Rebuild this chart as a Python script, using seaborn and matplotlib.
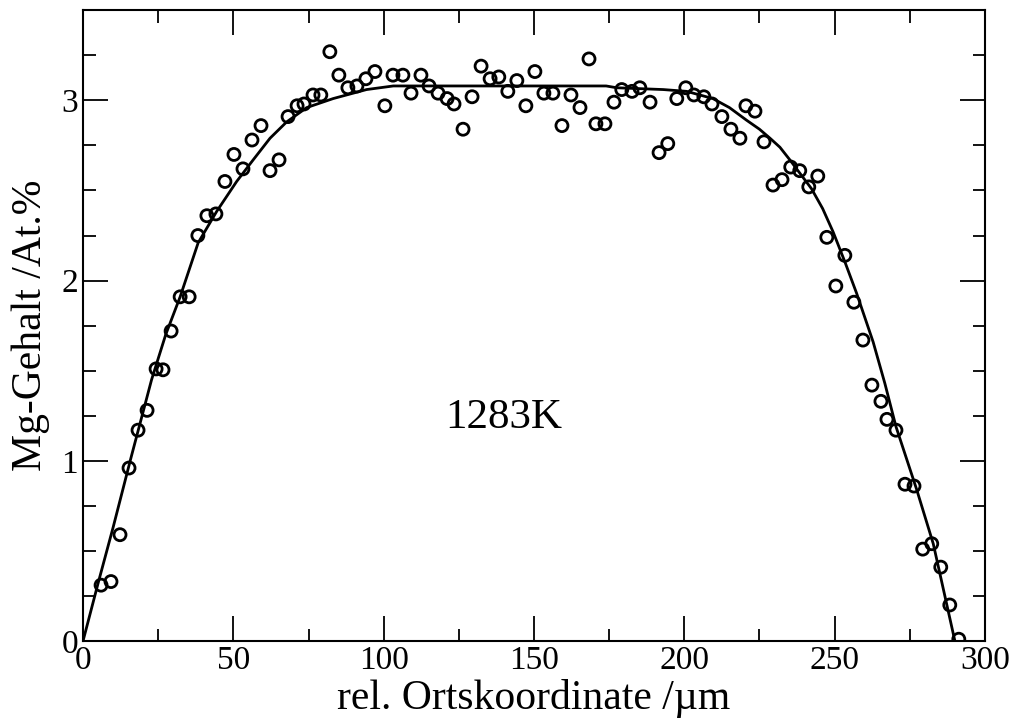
import numpy as np
import pandas as pd
import matplotlib
matplotlib.use("Agg")
import matplotlib.pyplot as plt
import seaborn as sns
from matplotlib.ticker import MultipleLocator

# measured points (position in um, Mg content in at.%)
x_meas = [6.0, 9.3, 12.3, 15.3, 18.3, 21.3, 24.3, 26.6, 29.3, 32.3,
          35.3, 38.2, 41.2, 44.2, 47.2, 50.2, 53.2, 56.2, 59.2, 62.2,
          65.2, 68.2, 71.2, 73.5, 76.5, 79.1, 82.1, 85.1, 88.1, 91.1,
          94.1, 97.1, 100.4, 103.1, 106.4, 109.1, 112.4, 115.1, 118.1, 121.1,
          123.4, 126.4, 129.4, 132.4, 135.4, 138.3, 141.3, 144.3, 147.3, 150.3,
          153.3, 156.3, 159.3, 162.3, 165.3, 168.3, 170.6, 173.6, 176.6, 179.2,
          182.6, 185.2, 188.6, 191.6, 194.5, 197.5, 200.5, 203.2, 206.5, 209.2,
          212.5, 215.5, 218.5, 220.5, 223.5, 226.5, 229.5, 232.5, 235.4, 238.4,
          241.4, 244.4, 247.4, 250.4, 253.4, 256.4, 259.4, 262.4, 265.4, 267.4,
          270.4, 273.4, 276.4, 279.3, 282.3, 285.3, 288.3, 291.3]
y_meas = [0.31, 0.33, 0.59, 0.96, 1.17, 1.28, 1.51, 1.505, 1.72, 1.91,
          1.91, 2.25, 2.36, 2.37, 2.55, 2.70, 2.62, 2.78, 2.86, 2.61,
          2.67, 2.91, 2.97, 2.98, 3.03, 3.03, 3.27, 3.14, 3.07, 3.08,
          3.12, 3.16, 2.97, 3.14, 3.14, 3.04, 3.14, 3.08, 3.04, 3.01,
          2.98, 2.84, 3.02, 3.19, 3.12, 3.13, 3.05, 3.11, 2.97, 3.16,
          3.04, 3.04, 2.86, 3.03, 2.96, 3.23, 2.87, 2.87, 2.99, 3.06,
          3.05, 3.07, 2.99, 2.71, 2.76, 3.01, 3.07, 3.03, 3.02, 2.98,
          2.91, 2.84, 2.79, 2.97, 2.94, 2.77, 2.53, 2.56, 2.63, 2.61,
          2.52, 2.58, 2.24, 1.97, 2.14, 1.88, 1.67, 1.42, 1.33, 1.23,
          1.17, 0.87, 0.86, 0.51, 0.54, 0.41, 0.20, 0.01]

# fitted profile
x_fit = [0, 5, 10, 16, 22.8, 27.5, 32.3, 38.3, 44.5, 51.1,
         56.6, 62.2, 67.7, 74.4, 83.2, 94.3, 103.2, 120, 140, 155,
         174, 177.5, 193, 200.8, 209.5, 215, 220.7, 225, 228.5, 231.8,
         235.1, 242.3, 246, 249.5, 253.5, 257.3, 262.8, 266.7, 270.4, 277.3,
         282.8, 290]
y_fit = [0, 0.32, 0.63, 1.02, 1.45, 1.70, 1.91, 2.21, 2.385, 2.55,
         2.67, 2.79, 2.88, 2.96, 3.01, 3.06, 3.08, 3.08, 3.08, 3.08,
         3.08, 3.07, 3.06, 3.05, 3.01, 2.96, 2.89, 2.84, 2.79, 2.74,
         2.67, 2.51, 2.40, 2.27, 2.10, 1.93, 1.66, 1.43, 1.19, 0.84,
         0.54, 0.0]

df_meas = pd.DataFrame({"x": x_meas, "y": y_meas})
df_fit = pd.DataFrame({"x": x_fit, "y": y_fit})

sns.set_style("ticks")
plt.rcParams['font.family'] = ['Liberation Serif', 'DejaVu Serif']
plt.rcParams['text.color'] = 'black'
plt.rcParams['axes.labelcolor'] = 'black'
plt.rcParams['xtick.color'] = 'black'
plt.rcParams['ytick.color'] = 'black'

fig = plt.figure(figsize=(10.15, 7.18), dpi=100)
ax = fig.add_axes([0.0818, 0.1072, 0.8886, 0.8785])

sns.lineplot(data=df_fit, x="x", y="y", ax=ax, color="black", linewidth=2.0,
             sort=False, estimator=None)
sns.scatterplot(data=df_meas, x="x", y="y", ax=ax, marker="o", s=75,
                facecolor="none", edgecolor="black", linewidth=2.0, zorder=3)

ax.set_xlim(0, 300)
ax.set_ylim(0, 3.5)
ax.xaxis.set_major_locator(MultipleLocator(50))
ax.xaxis.set_minor_locator(MultipleLocator(25))
ax.yaxis.set_major_locator(MultipleLocator(1))
ax.yaxis.set_minor_locator(MultipleLocator(0.25))
ax.tick_params(which="both", direction="in", top=True, right=True,
               width=1.3, labelsize=24, color="black", labelcolor="black")
ax.tick_params(which="major", length=18)
ax.tick_params(which="minor", length=9)
for s in ax.spines.values():
    s.set_linewidth(1.5)
    s.set_color("black")

ax.set_xlabel("rel. Ortskoordinate /µm", fontsize=30, labelpad=2, color="black")
ax.set_ylabel("Mg-Gehalt /At.%", fontsize=30, labelpad=8, color="black")
ax.text(140, 1.24, "1283K", fontsize=31, ha="center", va="center", color="black")

fig.savefig("out.png", dpi=100)
